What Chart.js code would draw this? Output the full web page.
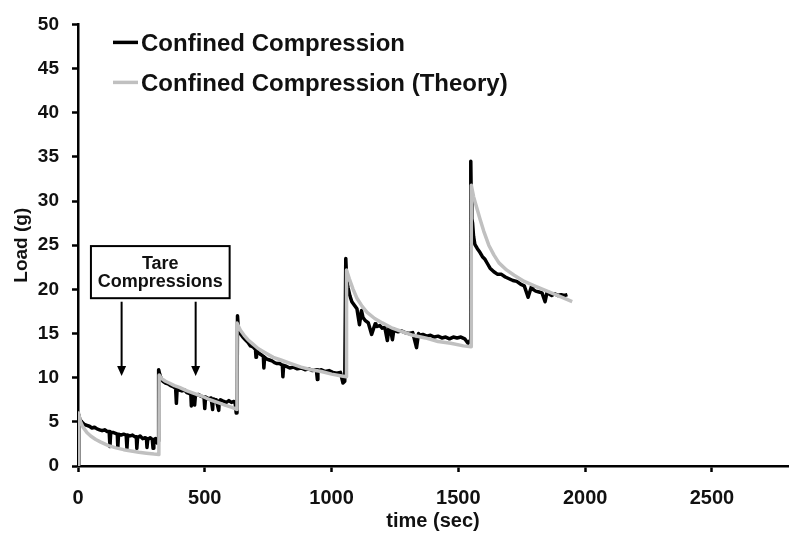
<!DOCTYPE html>
<html>
<head>
<meta charset="utf-8">
<script src="https://cdn.jsdelivr.net/npm/chart.js@4.4.1/dist/chart.umd.min.js"></script>
<style>
  html, body { margin: 0; padding: 0; background: #fff; }
  #wrap { width: 800px; height: 539px; }
</style>
</head>
<body>
<div id="wrap"><canvas id="myChart" width="800" height="539"></canvas></div>
<script>
const seriesNames = ['Confined Compression', 'Confined Compression (Theory)'];

// measured load (g) vs time (sec)
const expTime = [
  0, 3, 8, 15, 25, 35, 45, 55, 65, 75, 85, 95, 105, 115, 123, 126, 129, 138, 148, 155, 157, 160, 170, 180, 190, 193, 196, 205, 215, 225, 230, 232, 235, 245, 255, 265, 270, 272, 275, 285, 293, 296, 299, 306, 312,
  316, 318, 322, 328, 335, 345, 355, 365, 375, 385, 388, 391, 400, 410, 420, 430, 440, 445, 447, 450, 458, 460, 463, 475, 485, 497, 500, 503, 515, 525, 531, 533, 536, 545, 555, 557, 559, 562, 575, 585, 595, 605, 615, 620, 624,
  627, 629, 633, 640, 650, 660, 670, 680, 690, 700, 702, 704, 712, 722, 731, 733, 736, 745, 755, 765, 775, 785, 795, 806, 808, 811, 820, 835, 850, 865, 880, 895, 910, 925, 940, 944, 946, 949, 960, 975, 990, 1005, 1020, 1035, 1045, 1052, 1056,
  1059, 1061, 1065, 1072, 1080, 1090, 1100, 1110, 1118, 1121, 1124, 1132, 1145, 1158, 1172, 1175, 1178, 1190, 1200, 1210, 1220, 1226, 1228, 1231, 1240, 1246, 1248, 1251, 1262, 1275, 1290, 1305, 1320, 1335, 1343, 1346, 1349, 1360, 1375, 1390, 1405, 1420, 1435, 1450, 1465, 1480, 1495, 1510, 1525, 1538, 1546, 1549,
  1551, 1553, 1556, 1560, 1565, 1575, 1585, 1595, 1605, 1615, 1625, 1640, 1655, 1670, 1685, 1700, 1715, 1730, 1745, 1760, 1775, 1788, 1791, 1794, 1805, 1818, 1830, 1842, 1850, 1853, 1856, 1868, 1880, 1892, 1905, 1918, 1930, 1940, 1949
];
const expLoad = [
  0, 5.8, 5.2, 5.0, 4.7, 4.6, 4.5, 4.3, 4.4, 4.2, 4.1, 4.0, 4.1, 3.9, 3.9, 2.2, 3.8, 3.8, 3.7, 3.6, 2.1, 3.6, 3.5, 3.6, 3.5, 2.0, 3.5, 3.4, 3.5, 3.3, 3.3, 2.0, 3.2, 3.4, 3.1, 3.2, 3.1, 2.1, 3.0, 3.2, 3.0, 2.0, 3.0, 3.1, 2.6,
  2.8, 10.9, 10.4, 9.9, 9.6, 9.4, 9.3, 9.1, 9.0, 8.8, 7.1, 8.8, 8.6, 8.5, 8.6, 8.3, 8.2, 8.1, 6.8, 8.1, 8.0, 6.9, 8.0, 8.1, 7.9, 7.8, 6.5, 7.8, 7.6, 7.7, 6.4, 7.6, 7.5, 7.5, 6.3, 7.4, 7.3, 7.5, 7.3, 7.2, 7.4, 7.2, 7.3, 7.1, 6.0,
  6.2, 17.0, 15.3, 15.0, 14.6, 14.3, 14.0, 13.6, 13.5, 13.2, 12.3, 13.1, 12.8, 12.6, 12.4, 11.1, 12.3, 12.1, 12.0, 11.9, 11.7, 11.6, 11.6, 11.4, 10.1, 11.4, 11.3, 11.1, 11.2, 11.0, 11.1, 10.9, 11.0, 10.8, 10.9, 9.8, 10.9, 10.8, 10.9, 10.7, 10.8, 10.6, 10.5, 10.6, 9.4,
  9.6, 23.5, 21.5, 20.8, 20.2, 19.3, 18.6, 18.2, 17.8, 16.0, 17.6, 17.2, 16.8, 16.5, 16.2, 14.9, 16.1, 16.0, 15.8, 15.9, 15.6, 15.7, 14.2, 15.6, 15.5, 15.6, 14.3, 15.5, 15.4, 15.3, 15.2, 15.3, 15.1, 15.0, 15.1, 13.4, 15.0, 14.9, 14.8, 14.9, 14.7, 14.8, 14.6, 14.7, 14.5, 14.6, 14.4, 14.6, 14.5, 14.6, 14.4, 13.9,
  14.2, 34.5, 30.0, 28.0, 27.5, 26.0, 25.1, 24.6, 24.2, 23.7, 23.4, 22.9, 22.4, 22.0, 21.7, 21.7, 21.4, 21.2, 21.0, 20.9, 20.6, 20.4, 19.1, 20.3, 20.2, 20.0, 19.8, 19.7, 19.6, 18.6, 19.7, 19.6, 19.5, 19.3, 19.5, 19.3, 19.4, 19.3, 19.4
];

// theoretical curve
const thTime = [
  0, 2, 10, 20, 35, 50, 70, 90, 120, 150, 180, 210, 240, 270, 300, 319,
  320, 330, 345, 360, 380, 400, 430, 460, 490, 520, 550, 580, 610, 626,
  627, 640, 655, 670, 690, 710, 740, 770, 800, 840, 880, 920, 960, 1000, 1040, 1058,
  1059, 1070, 1085, 1100, 1120, 1140, 1170, 1200, 1240, 1280, 1320, 1370, 1420, 1470, 1520, 1550,
  1551, 1560, 1570, 1585, 1600, 1620, 1640, 1660, 1690, 1720, 1760, 1800, 1850, 1900, 1949
];
const thLoad = [
  0, 6.0, 5.0, 4.4, 3.8, 3.4, 3.0, 2.7, 2.3, 2.05, 1.85, 1.7, 1.55, 1.45, 1.35, 1.3,
  10.3, 9.9, 9.6, 9.4, 9.1, 8.9, 8.5, 8.2, 7.9, 7.5, 7.2, 6.9, 6.6, 6.4,
  16.2, 15.4, 14.8, 14.3, 13.8, 13.3, 12.8, 12.3, 12.0, 11.6, 11.2, 10.9, 10.7, 10.4, 10.2, 10.1,
  22.2, 21.2, 20.0, 19.0, 18.1, 17.4, 16.7, 16.2, 15.6, 15.2, 14.8, 14.5, 14.1, 13.9, 13.6, 13.5,
  31.8, 30.5, 29.5, 28.0, 26.6, 25.0, 23.9, 23.0, 22.2, 21.6, 20.9, 20.4, 19.8, 19.2, 18.6
];

const xTicks = [0, 500, 1000, 1500, 2000, 2500];
const yTicks = [0, 5, 10, 15, 20, 25, 30, 35, 40, 45, 50];

// tare compressions note (data units)
const tareBox = { x0: 51, x1: 598, y0: 24.9, y1: 19.0 };
const tareArrows = [172, 464];
const arrowTop = 18.6, arrowTip = 10.2;

const FONT = "'Liberation Sans', Arial, sans-serif";

function pts(xs, ys) {
  return xs.map((x, i) => ({ x: x, y: ys[i] }));
}

const overlay = {
  id: 'overlay',
  afterDraw(chart) {
    const ctx = chart.ctx;
    const xs = chart.scales.x, ys = chart.scales.y;
    const area = chart.chartArea;
    ctx.save();

    // legend inside the plot
    const cols = ['#000000', '#c0c0c0'];
    ctx.font = 'bold 24px ' + FONT;
    ctx.textBaseline = 'middle';
    ctx.textAlign = 'left';
    seriesNames.forEach((name, i) => {
      const yy = area.top + 18 + i * 40;
      ctx.strokeStyle = cols[i];
      ctx.lineWidth = 3.5;
      ctx.beginPath();
      ctx.moveTo(area.left + 35, yy);
      ctx.lineTo(area.left + 60, yy);
      ctx.stroke();
      ctx.fillStyle = '#111';
      ctx.fillText(name, area.left + 63, yy + 2);
    });

    // box
    const bx0 = xs.getPixelForValue(tareBox.x0), bx1 = xs.getPixelForValue(tareBox.x1);
    const by0 = ys.getPixelForValue(tareBox.y0), by1 = ys.getPixelForValue(tareBox.y1);
    ctx.strokeStyle = '#000';
    ctx.lineWidth = 2;
    ctx.fillStyle = '#fff';
    ctx.fillRect(bx0, by0, bx1 - bx0, by1 - by0);
    ctx.strokeRect(bx0, by0, bx1 - bx0, by1 - by0);
    ctx.fillStyle = '#111';
    ctx.font = 'bold 18px ' + FONT;
    ctx.textAlign = 'center';
    ctx.textBaseline = 'alphabetic';
    const cx = (bx0 + bx1) / 2;
    ctx.fillText('Tare', cx, by0 + 23);
    ctx.fillText('Compressions', cx, by0 + 41);

    // arrows
    tareArrows.forEach(t => {
      const ax = xs.getPixelForValue(t);
      const a0 = ys.getPixelForValue(arrowTop), a1 = ys.getPixelForValue(arrowTip);
      ctx.strokeStyle = '#000';
      ctx.lineWidth = 2;
      ctx.beginPath();
      ctx.moveTo(ax, a0);
      ctx.lineTo(ax, a1 - 8);
      ctx.stroke();
      ctx.fillStyle = '#000';
      ctx.beginPath();
      ctx.moveTo(ax - 4.5, a1 - 10);
      ctx.lineTo(ax + 4.5, a1 - 10);
      ctx.lineTo(ax, a1);
      ctx.closePath();
      ctx.fill();
    });
    ctx.restore();
  }
};

const data = {
  datasets: [{
    label: seriesNames[0],
    data: pts(expTime, expLoad),
    borderColor: '#000000',
    borderWidth: 3.5,
    pointRadius: 0,
    order: 1
  },
  {
    label: seriesNames[1],
    data: pts(thTime, thLoad),
    borderColor: '#c0c0c0',
    borderWidth: 3.5,
    pointRadius: 0,
    order: 0
  }]
};

const config = {
  type: 'line',
  data: data,
  options: {
    responsive: false,
    animation: false,
    layout: { padding: { top: 16, right: 12, left: 0, bottom: 0 } },
    plugins: { legend: { display: false }, tooltip: { enabled: false } },
    elements: { line: { tension: 0, borderJoinStyle: 'round' } },
    scales: {
      x: {
        type: 'linear',
        min: 0,
        max: 2800,
        afterBuildTicks: s => { s.ticks = xTicks.map(v => ({ value: v })); },
        afterFit: s => { s.height = 73; },
        ticks: { color: '#111', font: { family: FONT, size: 20, weight: 'bold' }, padding: 14, maxRotation: 0,
                 callback: v => String(v) },
        grid: { drawOnChartArea: false, tickLength: 6, tickColor: '#000', tickWidth: 2.5 },
        border: { color: '#000', width: 2.5 },
        title: { display: true, text: 'time (sec)', color: '#111', font: { family: FONT, size: 20, weight: 'bold' }, padding: { top: 0, bottom: 6 } }
      },
      y: {
        min: 0,
        max: 50,
        afterBuildTicks: s => { s.ticks = yTicks.map(v => ({ value: v })); },
        afterFit: s => { s.width = 78; },
        ticks: { color: '#111', font: { family: FONT, size: 19, weight: 'bold' }, padding: 13,
                 callback: v => String(v) },
        grid: { drawOnChartArea: false, tickLength: 6, tickColor: '#000', tickWidth: 2.5 },
        border: { color: '#000', width: 2.5 },
        title: { display: true, text: 'Load (g)', color: '#111', font: { family: FONT, size: 19, weight: 'bold' }, padding: { top: 10, bottom: 4 } }
      }
    }
  },
  plugins: [overlay]
};

const myChart = new Chart(
  document.getElementById('myChart'),
  config
);
</script>
</body>
</html>
